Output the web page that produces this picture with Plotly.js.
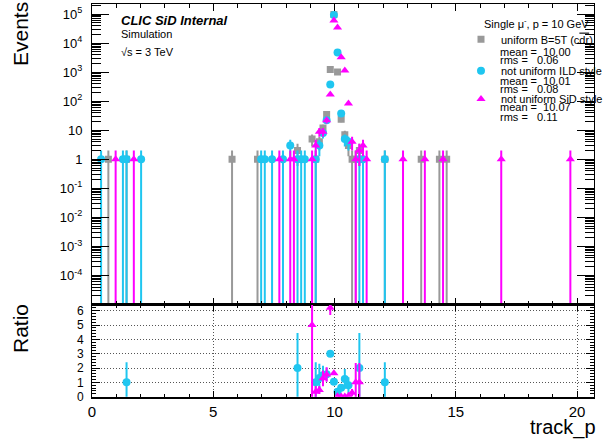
<!DOCTYPE html>
<html>
<head>
<meta charset="utf-8">
<script src="https://cdn.plot.ly/plotly-3.0.1.min.js"></script>
<style>
  html, body { margin: 0; padding: 0; background: #ffffff; }
  #plot { width: 608px; height: 439px; }
</style>
</head>
<body>
<div id="plot"></div>
<script>
// Reconstructed track momentum, single mu-, p = 10 GeV, 0.15 GeV bins (bin centres)
const uniformP = [0.675, 1.425, 5.775, 6.825, 8.475, 9.075, 9.225, 9.375, 9.525, 9.675, 9.825, 9.975, 10.125, 10.275, 10.425, 10.575, 10.725, 10.875, 11.025, 12.075, 13.575, 14.325, 14.625];
const uniformN = [1, 1, 1, 1, 2, 5, 1, 4, 12, 35, 1230, 97000, 1020, 24, 7, 3, 1, 1, 2, 1, 1, 1, 1];

const ildP = [0.375, 1.275, 1.425, 2.025, 6.975, 7.125, 7.425, 7.875, 8.175, 8.475, 8.625, 8.775, 9.225, 9.375, 9.525, 9.675, 9.825, 9.975, 10.125, 10.275, 10.425, 10.575, 11.025, 11.175, 12.075];
const ildN = [1, 1, 1, 1, 1, 1, 1, 1, 3, 1, 1, 1, 1, 3, 8, 22, 375, 93000, 4800, 38, 5, 4, 1, 1, 1];

const sidP = [0.975, 1.725, 7.725, 8.175, 8.325, 9.075, 9.225, 9.375, 9.525, 9.675, 9.825, 9.975, 10.125, 10.275, 10.425, 10.575, 10.725, 10.875, 11.025, 11.175, 11.325, 12.825, 13.725, 14.475, 16.875, 19.725];
const sidN = [1, 1, 1, 1, 1, 1, 3, 9, 9, 22, 170, 60000, 35000, 3300, 1150, 83, 4, 1, 2, 3, 1, 1, 1, 1, 1, 1];

// Ratio pad: uniform / not uniform, with errors
const ratioIldP = [1.425, 8.475, 9.225, 9.375, 9.525, 9.675, 9.825, 9.975, 10.125, 10.275, 10.425, 10.575, 11.025, 12.075];
const ratioIldV = [1.0, 2.0, 1.0, 1.3, 1.5, 1.57, 3.0, 1.04, 0.35, 0.62, 1.24, 0.8, 2.0, 1.0];
const ratioIldE = [1.41, 2.45, 1.41, 1.0, 0.65, 0.45, 0.17, 0.01, 0.05, 0.16, 0.7, 0.55, 2.45, 1.41];

const ratioSidP = [9.075, 9.225, 9.375, 9.525, 9.675, 9.825, 9.975, 10.125, 10.275, 10.425, 10.575, 10.725, 10.875, 11.025];
const ratioSidV = [5.0, 0.35, 0.47, 1.28, 1.55, 6.2, 1.63, 0.03, 0.01, 0.01, 0.06, 0.28, 1.0, 1.0];
const ratioSidE = [5.5, 0.4, 0.28, 0.55, 0.5, 0.5, 0.02, 0.01, 0.01, 0.01, 0.03, 0.25, 1.35, 1.35];

// Legend / statistics
const seriesNames = ['uniform B=5T (c<span style="text-decoration:overline">dr</span>)', 'not uniform ILD style', 'not uniform SiD style'];
const seriesMean = ['10.00', '10.01', '10.07'];
const seriesRms = ['0.06', '0.08', '0.11'];

// Log-axis labels
const decadeVals = [1e-4, 1e-3, 1e-2, 1e-1, 1, 10, 100, 1e3, 1e4, 1e5];
const decadeText = ['10<sup>-4</sup>', '10<sup>-3</sup>', '10<sup>-2</sup>', '10<sup>-1</sup>', '1', '10', '10<sup>2</sup>', '10<sup>3</sup>', '10<sup>4</sup>', '10<sup>5</sup>'];

const GRAY = '#999999';
const CYAN = '#1fc6f0';
const MAGENTA = '#ff00ff';
const FONT = 'Liberation Sans, Arial, Helvetica, sans-serif';
const W = 608, H = 439;

function fx(px) { return px / W; }
function fy(py) { return 1 - py / H; }

// Poisson bars; empty lower edge goes below the log range
function upErr(n) { return n.map(v => Math.sqrt(v)); }
function downErr(n) { return n.map(v => (v - Math.sqrt(v) > 0 ? Math.sqrt(v) : v - 1e-9)); }

const minorLog = [];
for (let e = -5; e <= 5; e++) {
  for (let k = 2; k <= 9; k++) {
    const v = k * Math.pow(10, e);
    if (v < Math.pow(10, 5.35)) minorLog.push(v);
  }
}

function histTrace(p, n, color, symbol, size, name, legendId) {
  return {
    type: 'scatter', mode: 'markers', x: p, y: n,
    xaxis: 'x', yaxis: 'y', name: name, legend: legendId,
    marker: { symbol: symbol, size: size, color: color, line: { width: 0 } },
    error_y: { type: 'data', symmetric: false, array: upErr(n), arrayminus: downErr(n),
               color: color, thickness: 2, width: 0 },
    hoverinfo: 'skip'
  };
}

function ratioTrace(p, v, e, color, symbol, size) {
  return {
    type: 'scatter', mode: 'markers', x: p, y: v,
    xaxis: 'x2', yaxis: 'y2', showlegend: false,
    marker: { symbol: symbol, size: size, color: color, line: { width: 0 } },
    error_y: { type: 'data', array: e, color: color, thickness: 2, width: 0 },
    hoverinfo: 'skip'
  };
}

const data = [
  histTrace(uniformP, uniformN, GRAY, 'square', 7, seriesNames[0], 'legend'),
  histTrace(ildP, ildN, CYAN, 'circle', 8, seriesNames[1], 'legend2'),
  histTrace(sidP, sidN, MAGENTA, 'triangle-up', 8, seriesNames[2], 'legend3'),
  ratioTrace(ratioIldP, ratioIldV, ratioIldE, CYAN, 'circle', 8),
  ratioTrace(ratioSidP, ratioSidV, ratioSidE, MAGENTA, 'triangle-up', 8)
];

const xDomain = [fx(92), fx(594)];
const mainDomain = [fy(304.5), fy(4)];
const ratioDomain = [fy(396.7), fy(304.5)];

function legendBox(textCentreY) {
  return {
    x: fx(461), y: fy(textCentreY - 14.5), xanchor: 'left', yanchor: 'top',
    bgcolor: 'rgba(0,0,0,0)', borderwidth: 0, itemwidth: 30,
    font: { family: FONT, size: 11, color: '#000' }
  };
}

function txt(text, px, py, size, anchor, extra) {
  return Object.assign({
    text: text, x: fx(px), y: fy(py), xref: 'paper', yref: 'paper',
    xanchor: anchor, yanchor: 'middle', showarrow: false,
    font: { family: FONT, size: size, color: '#000' }
  }, extra || {});
}

const statY = [[51.7, 60.0], [80.7, 89.3], [107.3, 116.7]];
const annotations = [
  txt('Events', 20, 34, 21, 'center', { textangle: -90 }),
  txt('Ratio', 20, 329, 21, 'center', { textangle: -90 }),
  txt('track_p', 598, 427, 20, 'right'),
  txt('<b><i>CLIC SiD Internal</i></b>', 119, 21, 13, 'left'),
  txt('Simulation', 119, 34, 11, 'left'),
  txt('\u221As = 3 TeV', 119, 52, 11, 'left'),
  txt('Single \u03BC<sup>-</sup>, p = 10 GeV', 591, 22.7, 11, 'right')
];
for (let i = 0; i < 3; i++) {
  annotations.push(txt('mean = \u00A0' + seriesMean[i], 498, statY[i][0], 11, 'left'));
  annotations.push(txt('rms = \u00A0 ' + seriesRms[i], 498, statY[i][1], 11, 'left'));
}

const axisCommon = {
  showline: true, linecolor: '#000', mirror: 'ticks', zeroline: false,
  ticks: 'inside', tickcolor: '#000', tickwidth: 1
};

const layout = {
  width: W, height: H,
  margin: { l: 0, r: 0, t: 0, b: 0, pad: 0 },
  paper_bgcolor: '#ffffff', plot_bgcolor: '#ffffff',
  font: { family: FONT, color: '#000' },
  showlegend: true,
  legend: legendBox(39.3),
  legend2: legendBox(70.7),
  legend3: legendBox(99),
  xaxis: Object.assign({}, axisCommon, {
    domain: xDomain, anchor: 'y', range: [0, 20.7],
    tickmode: 'linear', tick0: 0, dtick: 5, ticklen: 7,
    showticklabels: false, showgrid: false, linewidth: 1,
    minor: { ticks: 'inside', ticklen: 4, dtick: 1, tick0: 0, tickcolor: '#000', showgrid: false }
  }),
  yaxis: Object.assign({}, axisCommon, {
    domain: mainDomain, anchor: 'x', type: 'log', range: [-5, 5.35],
    tickmode: 'array', tickvals: decadeVals, ticktext: decadeText,
    ticklen: 17, showgrid: false, linewidth: 1,
    tickfont: { family: FONT, size: 13, color: '#000' }, ticklabelstandoff: 6,
    minor: { tickmode: 'array', tickvals: minorLog, ticks: 'inside', ticklen: 9, tickcolor: '#000', showgrid: false }
  }),
  xaxis2: Object.assign({}, axisCommon, {
    domain: xDomain, anchor: 'y2', matches: 'x', range: [0, 20.7],
    tickmode: 'linear', tick0: 0, dtick: 5, ticklen: 6, linewidth: 2,
    showgrid: true, gridcolor: '#555', griddash: '1px,2px', gridwidth: 1,
    tickfont: { family: FONT, size: 15, color: '#000' },
    minor: { ticks: 'inside', ticklen: 3, dtick: 1, tick0: 0, tickcolor: '#000', showgrid: false }
  }),
  yaxis2: Object.assign({}, axisCommon, {
    domain: ratioDomain, anchor: 'x2', range: [0, 6.43],
    tickmode: 'linear', tick0: 0, dtick: 1, ticklen: 8, linewidth: 1,
    showgrid: true, gridcolor: '#555', griddash: '1px,2px', gridwidth: 1,
    tickfont: { family: FONT, size: 12, color: '#000' }, ticklabelstandoff: 5,
    minor: { ticks: 'inside', ticklen: 4, dtick: 0.2, tick0: 0, tickcolor: '#000', showgrid: false }
  }),
  annotations: annotations
};

Plotly.newPlot('plot', data, layout, { displayModeBar: false, staticPlot: true });
</script>
</body>
</html>
